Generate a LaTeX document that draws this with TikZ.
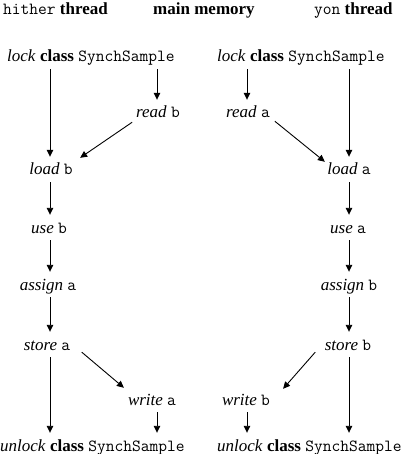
\documentclass[tikz,border=0pt]{standalone}
\usepackage{fontspec}
\setmainfont{Liberation Serif}
\usetikzlibrary{arrows.meta}
\newcommand\mytt[1]{{\fontsize{17}{18}\selectfont\ttfamily #1}}
\begin{document}
\begin{tikzpicture}[x=1pt,y=-1pt,
  lbl/.style={inner sep=0pt, text height=10pt, text depth=3pt, anchor=base, font=\fontsize{17}{19}\selectfont},
  arr/.style={-{Triangle[length=7pt,width=6.5pt]}, line width=0.9pt, shorten <=4pt, shorten >=8pt},
  darr/.style={-{Triangle[length=7pt,width=6.5pt]}, line width=0.9pt}]
\useasboundingbox (0,0) rectangle (410,454);
\coordinate (cL) at (50,0);
\coordinate (cM1) at (157,0);
\coordinate (cM2) at (247,0);
\coordinate (cR) at (349,0);
% headers
\node[lbl, anchor=base west] (hH) at (3,15) {\mytt{hither} \textbf{thread}};
\node[lbl, anchor=base west] (hM) at (153,15) {\textbf{main memory}};
\node[lbl, anchor=base west] (hY) at (314,15) {\mytt{yon} \textbf{thread}};
% nodes
\node[lbl, anchor=base west] (lockL) at (7,62) {\textit{lock} \textbf{class} \mytt{SynchSample}};
\node[lbl, anchor=base west] (lockR) at (217,62) {\textit{lock} \textbf{class} \mytt{SynchSample}};
\node[lbl] (readB) at (158,118) {\textit{read} \mytt{b}};
\node[lbl] (readA) at (248,118) {\textit{read} \mytt{a}};
\node[lbl] (loadB) at (51,175) {\textit{load} \mytt{b}};
\node[lbl] (loadA) at (349,175) {\textit{load} \mytt{a}};
\node[lbl] (useB) at (49,233) {\textit{use} \mytt{b}};
\node[lbl] (useA) at (348,233) {\textit{use} \mytt{a}};
\node[lbl] (assignA) at (48,290) {\textit{assign} \mytt{a}};
\node[lbl] (assignB) at (349,290) {\textit{assign} \mytt{b}};
\node[lbl] (storeA) at (47,350) {\textit{store} \mytt{a}};
\node[lbl] (storeB) at (348,350) {\textit{store} \mytt{b}};
\node[lbl] (writeA) at (152,405) {\textit{write} \mytt{a}};
\node[lbl] (writeB) at (246,405) {\textit{write} \mytt{b}};
\node[lbl, anchor=base west] (unlockL) at (0,451) {\textit{unlock} \textbf{class} \mytt{SynchSample}};
\node[lbl, anchor=base west] (unlockR) at (217,451) {\textit{unlock} \textbf{class} \mytt{SynchSample}};
% arrows
\draw[arr] (lockL.south -| cL) -- (loadB.north -| cL);
\draw[arr] (lockL.south -| cM1) -- (readB.north -| cM1);
\draw[arr] (lockR.south -| cM2) -- (readA.north -| cM2);
\draw[arr] (lockR.south -| cR) -- (loadA.north -| cR);
\draw[darr] ([xshift=-3.8pt,yshift=-1pt]readB.south west) -- ([xshift=7.3pt,yshift=7pt]loadB.north east);
\draw[darr] ([xshift=4.8pt]readA.south east) -- ([xshift=-2.3pt,yshift=3pt]loadA.north west);
\draw[arr] (loadB.south -| cL) -- (useB.north -| cL);
\draw[arr] (loadA.south -| cR) -- (useA.north -| cR);
\draw[arr] (useB.south -| cL) -- (assignA.north -| cL);
\draw[arr] (useA.south -| cR) -- (assignB.north -| cR);
\draw[arr] (assignA.south -| cL) -- (storeA.north -| cL);
\draw[arr] (assignB.south -| cR) -- (storeB.north -| cR);
\draw[arr] (storeA.south -| cL) -- (unlockL.north -| cL);
\draw[arr] (storeB.south -| cR) -- (unlockR.north -| cR);
\draw[darr] ([xshift=11.4pt,yshift=1pt]storeA.south east) -- ([xshift=-3.9pt,yshift=7pt]writeA.north west);
\draw[darr] ([xshift=-9.4pt,yshift=1pt]storeB.south west) -- ([xshift=12.9pt,yshift=6pt]writeB.north east);
\draw[arr] (writeA.south -| cM1) -- (unlockL.north -| cM1);
\draw[arr] (writeB.south -| cM2) -- (unlockR.north -| cM2);
\end{tikzpicture}
\end{document}
